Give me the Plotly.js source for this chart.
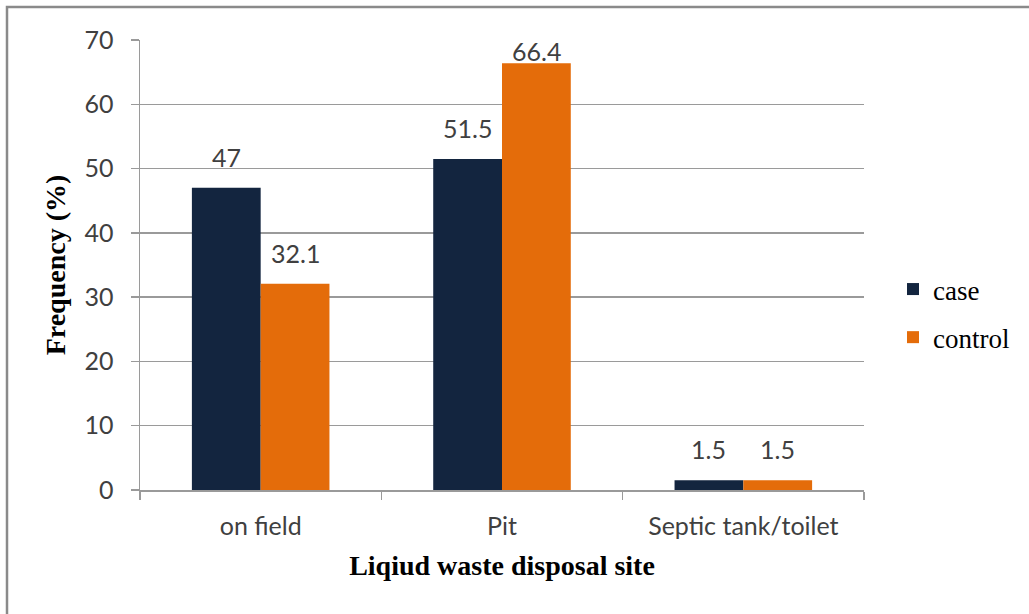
<!DOCTYPE html>
<html>
<head>
<meta charset="utf-8">
<script src="https://cdn.plot.ly/plotly-3.0.1.min.js"></script>
<style>html,body{margin:0;padding:0;background:#fff;}#chart{width:1029px;height:614px;}</style>
</head>
<body>
<div id="chart"></div>
<script>
var categories = ["on field", "Pit", "Septic tank/toilet"];
var caseValues = [47, 51.5, 1.5];
var controlValues = [32.1, 66.4, 1.5];
var seriesNames = ["case", "control"];
var seriesColors = ["#13253F", "#E46C0A"];
var yTicks = [0, 10, 20, 30, 40, 50, 60, 70];
var yMax = 70;

var labelFont = {family: "Lato, 'Liberation Sans', sans-serif", size: 25, color: "#404040"};
var serif = "'Liberation Serif', 'Times New Roman', serif";

var L = 140, R = 165, T = 40, B = 124;
var W = 1029 - L - R, H = 614 - T - B;
function px(x){ return (x - L) / W; }
function py(y){ return (614 - B - y) / H; }
var bargap = 0.43;

var allSeries = [caseValues, controlValues];
var traces = allSeries.map(function(vals, s){
  return {type: "bar", name: seriesNames[s], x: categories, y: vals,
          marker: {color: seriesColors[s]}, legendgroup: "g" + s, hoverinfo: "none"};
});

// data labels: above each bar, kept inside the plot area (like the source chart)
var barPx = W / categories.length * (1 - bargap) / 2;
var annotations = [];
allSeries.forEach(function(vals, s){
  vals.forEach(function(v, i){
    var room = (yMax - v) / yMax * H;
    annotations.push({
      x: categories[i], y: v, xref: "x", yref: "y",
      xshift: (s === 0 ? -1 : 1) * barPx / 2,
      yanchor: "bottom", yshift: Math.min(14, room - 28),
      text: String(v), showarrow: false, font: labelFont
    });
  });
});

var layout = {
  width: 1029, height: 614,
  margin: {l: L, r: R, t: T, b: B, pad: 0},
  paper_bgcolor: "#fff", plot_bgcolor: "#fff",
  barmode: "group", bargap: bargap, bargroupgap: 0,
  showlegend: true,
  legend: {x: px(893), y: py(265), xanchor: "left", yanchor: "top",
           font: {family: serif, size: 27, color: "#000"},
           itemwidth: 30,
           tracegroupgap: 10, traceorder: "grouped", bgcolor: "rgba(0,0,0,0)"},
  xaxis: {
    type: "category", showline: true, linecolor: "#9a9a9a", linewidth: 1.5,
    ticks: "outside", tickson: "boundaries", ticklen: 8, tickcolor: "#9a9a9a", tickwidth: 1.5,
    ticklabelstandoff: 13,
    tickfont: labelFont, showgrid: false, zeroline: false,
    title: {text: "<b>Liqiud waste disposal site</b>", standoff: 17,
            font: {family: serif, size: 28, color: "#000"}}
  },
  yaxis: {
    range: [0, yMax], tickvals: yTicks, showline: true, linecolor: "#9a9a9a", linewidth: 1.5,
    ticks: "outside", ticklen: 8, tickcolor: "#9a9a9a", tickwidth: 1.5,
    ticklabelstandoff: 12,
    showgrid: true, gridcolor: "#9a9a9a", gridwidth: 1.5, zeroline: false,
    tickfont: labelFont,
    title: {text: "<b>Frequency (%)</b>", standoff: 10,
            font: {family: serif, size: 28, color: "#000"}}
  },
  annotations: annotations,
  shapes: [
    {type: "rect", xref: "paper", yref: "paper",
     x0: px(7), x1: px(1040), y0: py(625), y1: py(7),
     line: {color: "#8a8a8a", width: 2.5}, fillcolor: "rgba(0,0,0,0)", layer: "below"}
  ]
};

Plotly.newPlot("chart", traces, layout, {displayModeBar: false, staticPlot: true});
</script>
</body>
</html>
